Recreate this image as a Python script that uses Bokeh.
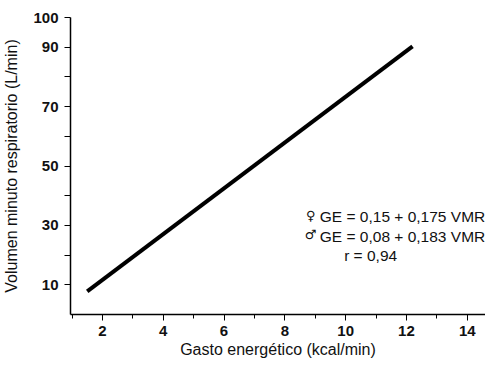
from bokeh.plotting import figure
from bokeh.models import Range1d, FixedTicker, Label
from bokeh.embed import file_html
from bokeh.resources import INLINE

# Data
gasto = [1.5, 12.2]
vmr = [7.8, 90.3]
x_ticks = [2, 4, 6, 8, 10, 12, 14]
x_minor = [1, 3, 5, 7, 9, 11, 13]
y_ticks = [10, 20, 30, 40, 50, 60, 70, 80, 90, 100]
y_labels = {10: "10", 20: "", 30: "30", 40: "", 50: "50", 60: "", 70: "70", 80: "", 90: "90", 100: "100"}
eq_female = "GE = 0,15 + 0,175 VMR"
eq_male = "GE = 0,08 + 0,183 VMR"
corr = "r = 0,94"

FONT = "Liberation Sans"

p = figure(width=485, height=362, output_backend="svg", toolbar_location=None,
           x_range=Range1d(0.95, 14.6), y_range=Range1d(0, 100),
           min_border_left=70, min_border_right=0, min_border_top=17, min_border_bottom=48)
p.outline_line_color = None
p.xgrid.visible = False
p.ygrid.visible = False

p.line(gasto, vmr, line_width=4, line_color="black")

p.xaxis.ticker = FixedTicker(ticks=x_ticks, minor_ticks=x_minor)
p.yaxis.ticker = FixedTicker(ticks=y_ticks)
p.yaxis.major_label_overrides = y_labels
for ax in (p.xaxis[0], p.yaxis[0]):
    ax.axis_line_width = 1.5
    ax.axis_line_color = "black"
    ax.major_tick_line_color = "black"
    ax.major_tick_in = 0
    ax.major_tick_out = 6
    ax.minor_tick_line_color = "black"
    ax.minor_tick_in = 0
    ax.minor_tick_out = 4
    ax.major_label_text_font = FONT
    ax.major_label_text_font_size = "15px"
    ax.major_label_text_font_style = "bold"
    ax.major_label_text_color = "#111111"
    ax.axis_label_text_font = FONT
    ax.axis_label_text_font_size = "16px"
    ax.axis_label_text_font_style = "normal"
    ax.axis_label_text_color = "#111111"
p.yaxis.minor_tick_line_color = None
p.xaxis.axis_label = "Gasto energético (kcal/min)"
p.yaxis.axis_label = "Volumen minuto respiratorio (L/min)"
p.xaxis.major_label_standoff = 5
p.yaxis.major_label_standoff = 6
p.xaxis.axis_label_standoff = 2
p.yaxis.axis_label_standoff = 10

def lab(x, y, t, align="left", font=FONT, size="15.5px"):
    p.add_layout(Label(x=x, y=y, text=t, text_font=font, text_font_size=size,
                       text_align=align, text_baseline="middle", text_color="#111111"))

lab(9.15, 32.9, eq_female)
lab(9.15, 26.4, eq_male)
lab(9.95, 20.0, corr)
lab(8.85, 33.2, "♀", align="center", font="DejaVu Sans", size="13px")
lab(8.85, 26.8, "♂", align="center", font="DejaVu Sans", size="13px")

open("out.html", "w").write(file_html(p, INLINE))
